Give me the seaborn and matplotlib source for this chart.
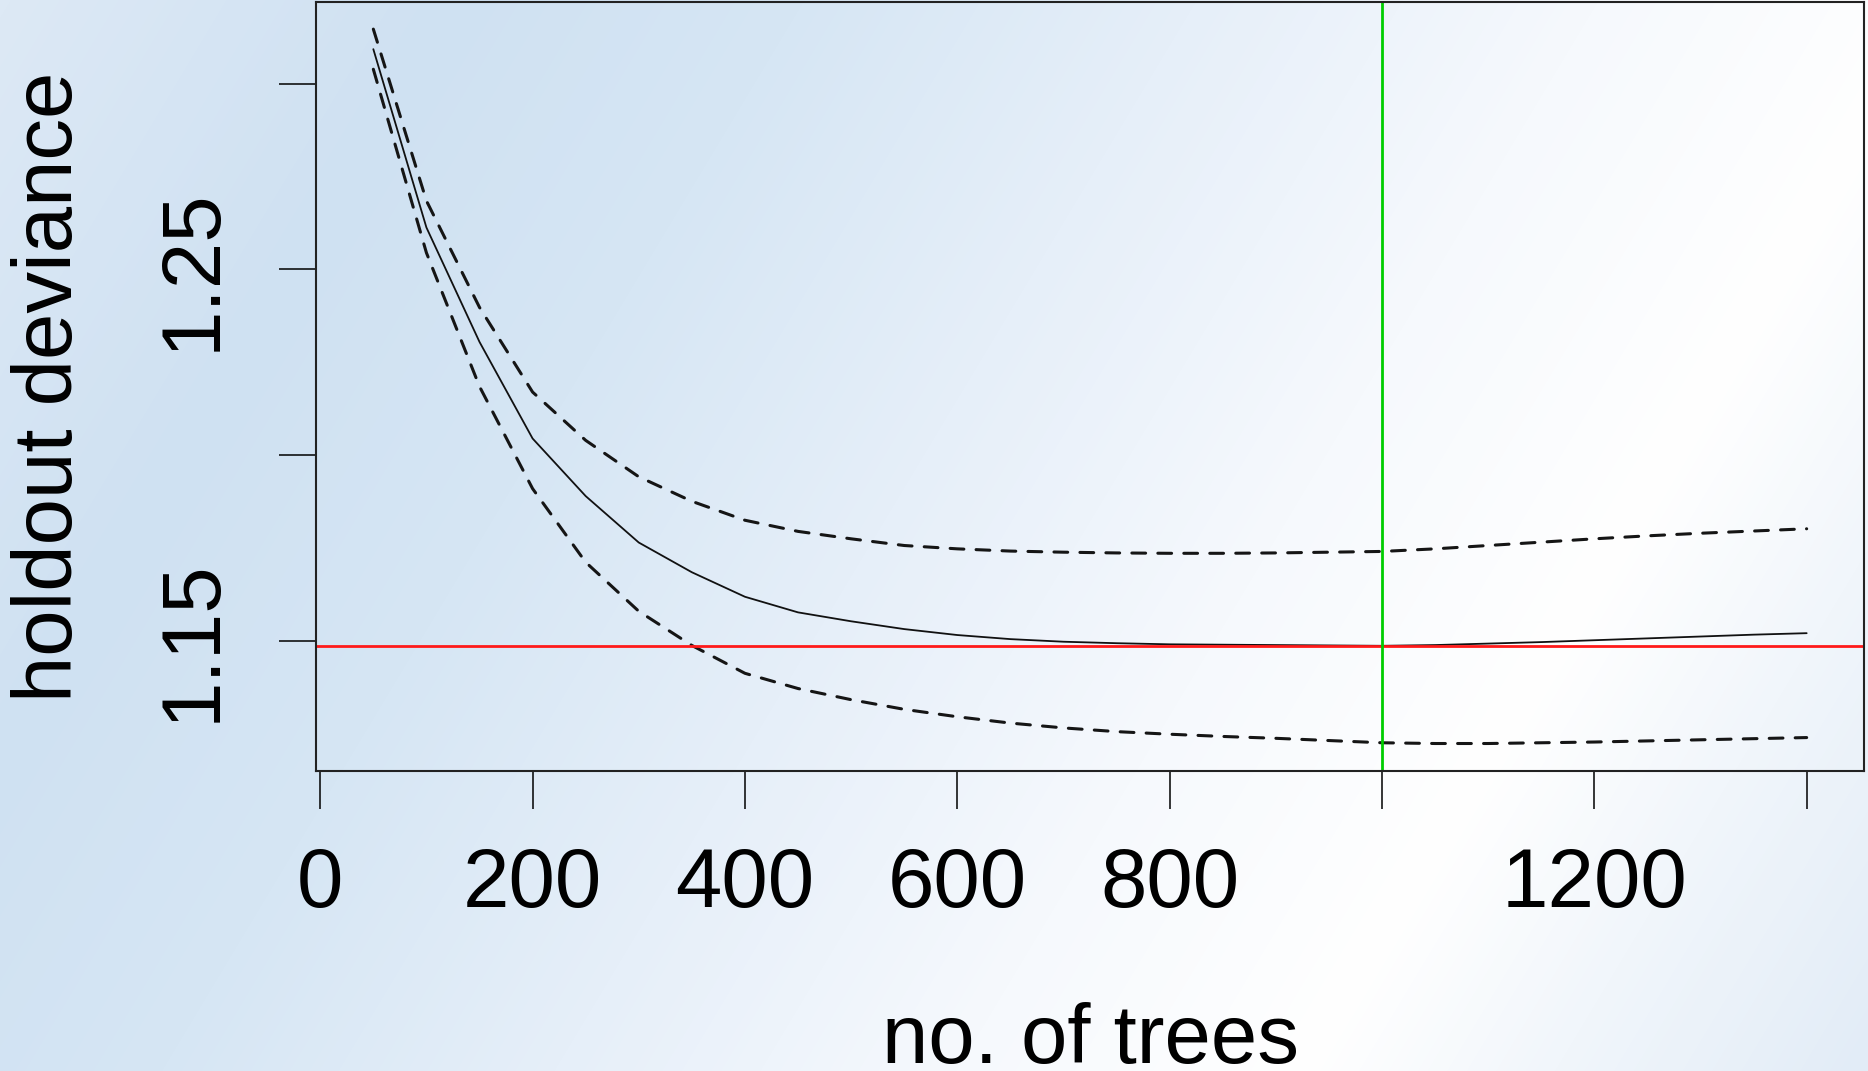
import numpy as np
import pandas as pd
import seaborn as sns
import matplotlib.pyplot as plt
import matplotlib.colors as mcolors

trees = [50, 100, 150, 200, 250, 300, 350, 400, 450, 500, 550, 600, 650, 700,
         750, 800, 850, 900, 950, 1000, 1050, 1100, 1150, 1200, 1250, 1300, 1350, 1400]
mean_dev = [1.3093, 1.2613, 1.2305, 1.2045, 1.1890, 1.1765, 1.1685, 1.1619, 1.1577, 1.1553,
            1.1532, 1.1516, 1.1505, 1.1498, 1.1494, 1.1491, 1.1490, 1.1489, 1.1488, 1.1487,
            1.1489, 1.1493, 1.1497, 1.1502, 1.1507, 1.1512, 1.1517, 1.1521]
upper_dev = [1.3147, 1.2685, 1.2398, 1.2170, 1.2040, 1.1942, 1.1876, 1.1825, 1.1795, 1.1775,
             1.1757, 1.1748, 1.1742, 1.1739, 1.1737, 1.1736, 1.1736, 1.1737, 1.1739, 1.1741,
             1.1748, 1.1757, 1.1766, 1.1775, 1.1783, 1.1790, 1.1796, 1.1802]
lower_dev = [1.3039, 1.2545, 1.2185, 1.1910, 1.1712, 1.1580, 1.1488, 1.1413, 1.1372, 1.1342,
             1.1316, 1.1296, 1.1279, 1.1266, 1.1256, 1.1249, 1.1243, 1.1238, 1.1232, 1.1226,
             1.1224, 1.1224, 1.1226, 1.1228, 1.1231, 1.1234, 1.1237, 1.1240]
best_trees = 1000

x_ticks = [0, 200, 400, 600, 800, 1000, 1200, 1400]
x_labels = ['0', '200', '400', '600', '800', '', '1200', '']
y_ticks = [1.15, 1.20, 1.25, 1.30]
y_labels = ['1.15', '', '1.25', '']

df = pd.DataFrame({'trees': trees, 'mean': mean_dev, 'upper': upper_dev, 'lower': lower_dev})

sns.set_style('ticks')
plt.rcParams['font.family'] = ['Liberation Sans', 'DejaVu Sans']
plt.rcParams['font.size'] = 60
for key in ['text.color', 'axes.labelcolor', 'xtick.color', 'ytick.color']:
    plt.rcParams[key] = 'black'

fig = plt.figure(figsize=(18.68, 10.71), dpi=100)

# slide-like gradient background
bg = fig.add_axes([0, 0, 1, 1], zorder=-10)
W, H = 1868, 1071
gx, gy = np.meshgrid(np.arange(W), np.arange(H))
u = gx + 0.6 * gy
umax = W + 0.6 * H
stops = [(0, '#dde9f5'), (450, '#cfe1f2'), (800, '#d6e6f4'), (1200, '#e6eff9'),
         (1600, '#f6f9fd'), (1950, '#ffffff'), (2200, '#f1f6fb'), (umax, '#e2ecf7')]
cmap = mcolors.LinearSegmentedColormap.from_list('bg', [(s / umax, c) for s, c in stops])
bg.imshow(u / umax, cmap=cmap, vmin=0, vmax=1, aspect='auto', interpolation='bilinear')
bg.axis('off')

ax = fig.add_axes([316 / W, 1 - 771 / H, 1548 / W, 769 / H])
ax.set_facecolor('none')

dash = (0, (4.5, 4))
sns.lineplot(data=df, x='trees', y='mean', ax=ax, color='#111111', lw=1.3)
sns.lineplot(data=df, x='trees', y='upper', ax=ax, color='#151515', lw=2.2,
             linestyle=dash, dash_capstyle='round')
sns.lineplot(data=df, x='trees', y='lower', ax=ax, color='#151515', lw=2.2,
             linestyle=dash, dash_capstyle='round')
ax.axhline(min(mean_dev), color='#ff1a1a', lw=2)
ax.axvline(best_trees, color='#00cd00', lw=2)

ax.set_xlim(-4, 1454)
ax.set_ylim(1.115, 1.322)
ax.set_xticks(x_ticks)
ax.set_xticklabels(x_labels)
ax.set_yticks(y_ticks)
ax.set_yticklabels(y_labels, rotation=90, va='center')
ax.tick_params(length=27, width=1.1, color='black', labelcolor='black', labelsize=60)
ax.tick_params(axis='x', pad=27)
ax.tick_params(axis='y', pad=34)

for sp in ax.spines.values():
    sp.set_visible(True)
    sp.set_linewidth(1.5)
    sp.set_color('#222222')

ax.set_xlabel('no. of trees', fontsize=60)
ax.set_ylabel('holdout deviance', fontsize=60)
ax.xaxis.label.set_va('baseline')
ax.xaxis.set_label_coords(0.5, (771 - 1063) / 769)
ax.yaxis.label.set_va('baseline')
ax.yaxis.set_label_coords((72 - 316) / 1548, 0.5)

fig.savefig('out.png', dpi=100)
